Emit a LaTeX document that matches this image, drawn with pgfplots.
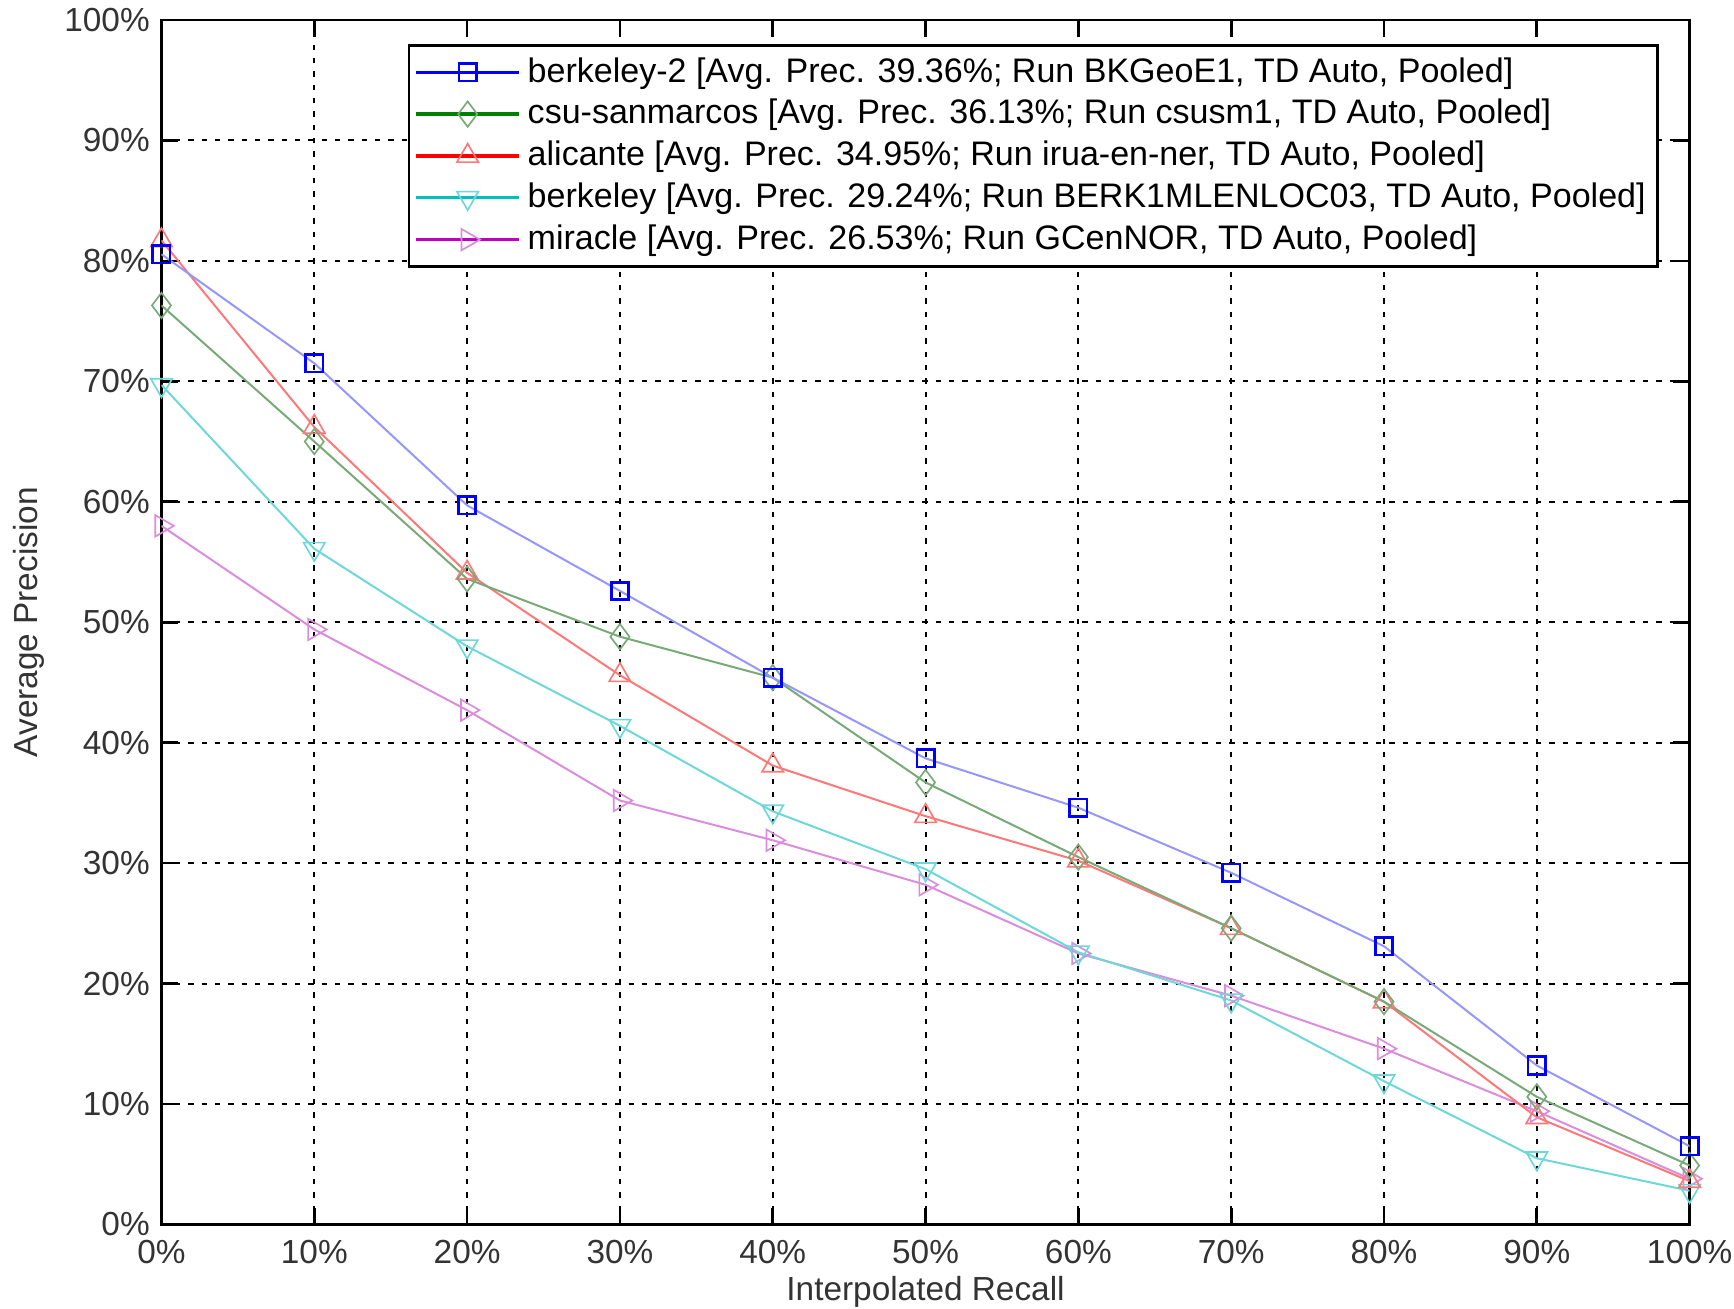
\documentclass[border=0pt]{standalone}
\usepackage{fontspec}
\setmainfont{Liberation Sans}
\usepackage{pgfplots}
\pgfplotsset{compat=1.18}
\definecolor{bl}{RGB}{0,0,255}
\definecolor{blp}{RGB}{150,150,255}
\definecolor{gr}{RGB}{0,128,0}
\definecolor{grp}{RGB}{120,170,120}
\definecolor{rd}{RGB}{255,0,0}
\definecolor{rdp}{RGB}{255,120,120}
\definecolor{cy}{RGB}{0,191,191}
\definecolor{cyp}{RGB}{110,215,215}
\definecolor{mg}{RGB}{191,0,191}
\definecolor{mgp}{RGB}{220,140,220}
\begin{document}
\begin{tikzpicture}
\begin{axis}[
  scale only axis,
  width=458pt, height=361pt,
  xmin=0, xmax=100, ymin=0, ymax=100,
  xtick={0,10,...,100}, ytick={0,10,...,100},
  xticklabel={\pgfmathprintnumber{\tick}\%},
  yticklabel={\pgfmathprintnumber{\tick}\%},
  /pgf/number format/assume math mode=true,
  tick label style={font=\fontsize{10}{12}\selectfont, text=black!80},
  xticklabel style={yshift=-1.2pt},
  label style={font=\fontsize{10}{12}\selectfont, text=black!80},
  xlabel={Interpolated Recall},
  ylabel={Average Precision},
  xlabel style={yshift=3.2pt},
  ylabel style={yshift=-1pt},
  tick align=inside,
  major tick length=5pt,
  axis line style={line width=0.8pt},
  every tick/.style={black, line width=0.8pt},
  grid=major,
  major grid style={black, line width=0.6pt, dash pattern=on 1.6pt off 2.4pt},
  legend style={at={(0.98,0.98)}, anchor=north east, draw=black, line width=0.8pt,
    font=\fontsize{10.2}{12}\selectfont, row sep=-0.35pt, inner sep=1.6pt},
  legend cell align=left,
  legend image code/.code={\draw[#1] (3pt,0pt) -- (34pt,0pt); \draw[#1, only marks] plot coordinates {(18.5pt,0pt)};},
]
\addlegendimage{bl, line width=1pt, mark=square, mark size=2.6pt, mark options={bl, line width=0.7pt}}
\addlegendentry{berkeley-2 [Avg. Prec. 39.36\%; Run BKGeoE1, TD Auto, Pooled]}
\addlegendimage{gr, line width=1pt, mark=diamond, mark size=3.8pt, mark options={grp, line width=0.5pt}}
\addlegendentry{csu-sanmarcos [Avg. Prec. 36.13\%; Run csusm1, TD Auto, Pooled]}
\addlegendimage{rd, line width=1pt, mark=triangle, mark size=3.7pt, mark options={rdp, line width=0.5pt}}
\addlegendentry{alicante [Avg. Prec. 34.95\%; Run irua-en-ner, TD Auto, Pooled]}
\addlegendimage{cy, line width=1pt, mark=triangle, mark size=3.7pt, mark options={cyp, line width=0.5pt, rotate=180}}
\addlegendentry{berkeley [Avg. Prec. 29.24\%; Run BERK1MLENLOC03, TD Auto, Pooled]}
\addlegendimage{mg, line width=1pt, mark=triangle, mark size=3.7pt, mark options={mgp, line width=0.5pt, rotate=-90}}
\addlegendentry{miracle [Avg. Prec. 26.53\%; Run GCenNOR, TD Auto, Pooled]}

\addplot[forget plot, mgp, line width=0.6pt, mark=triangle, mark size=3.7pt, mark options={mgp, line width=0.5pt, rotate=-90}] coordinates {
(0,58.0) (10,49.4) (20,42.7) (30,35.2) (40,31.9) (50,28.2) (60,22.5) (70,19.0) (80,14.6) (90,9.4) (100,3.8)};
\addplot[forget plot, cyp, line width=0.6pt, mark=triangle, mark size=3.7pt, mark options={cyp, line width=0.5pt, rotate=180}] coordinates {
(0,69.7) (10,56.1) (20,48.0) (30,41.4) (40,34.3) (50,29.5) (60,22.6) (70,18.6) (80,11.9) (90,5.5) (100,2.8)};
\addplot[forget plot, rdp, line width=0.6pt, mark=triangle, mark size=3.7pt, mark options={rdp, line width=0.5pt}] coordinates {
(0,81.7) (10,66.2) (20,54.1) (30,45.6) (40,38.1) (50,33.9) (60,30.2) (70,24.6) (80,18.5) (90,8.9) (100,3.6)};
\addplot[forget plot, grp, line width=0.6pt, mark=diamond, mark size=3.8pt, mark options={grp, line width=0.5pt}] coordinates {
(0,76.3) (10,65.0) (20,53.6) (30,48.8) (40,45.4) (50,36.7) (60,30.5) (70,24.6) (80,18.5) (90,10.6) (100,4.9)};
\addplot[forget plot, blp, line width=0.6pt, mark=square, mark size=2.6pt, mark options={bl, line width=0.8pt}] coordinates {
(0,80.55) (10,71.5) (20,59.7) (30,52.6) (40,45.4) (50,38.7) (60,34.6) (70,29.2) (80,23.1) (90,13.2) (100,6.5)};
\end{axis}
\pgfresetboundingbox
\path[use as bounding box] ([xshift=-48.4pt,yshift=-25.2pt]current axis.south west) rectangle ([xshift=13.3pt,yshift=6pt]current axis.north east);
\end{tikzpicture}
\end{document}
